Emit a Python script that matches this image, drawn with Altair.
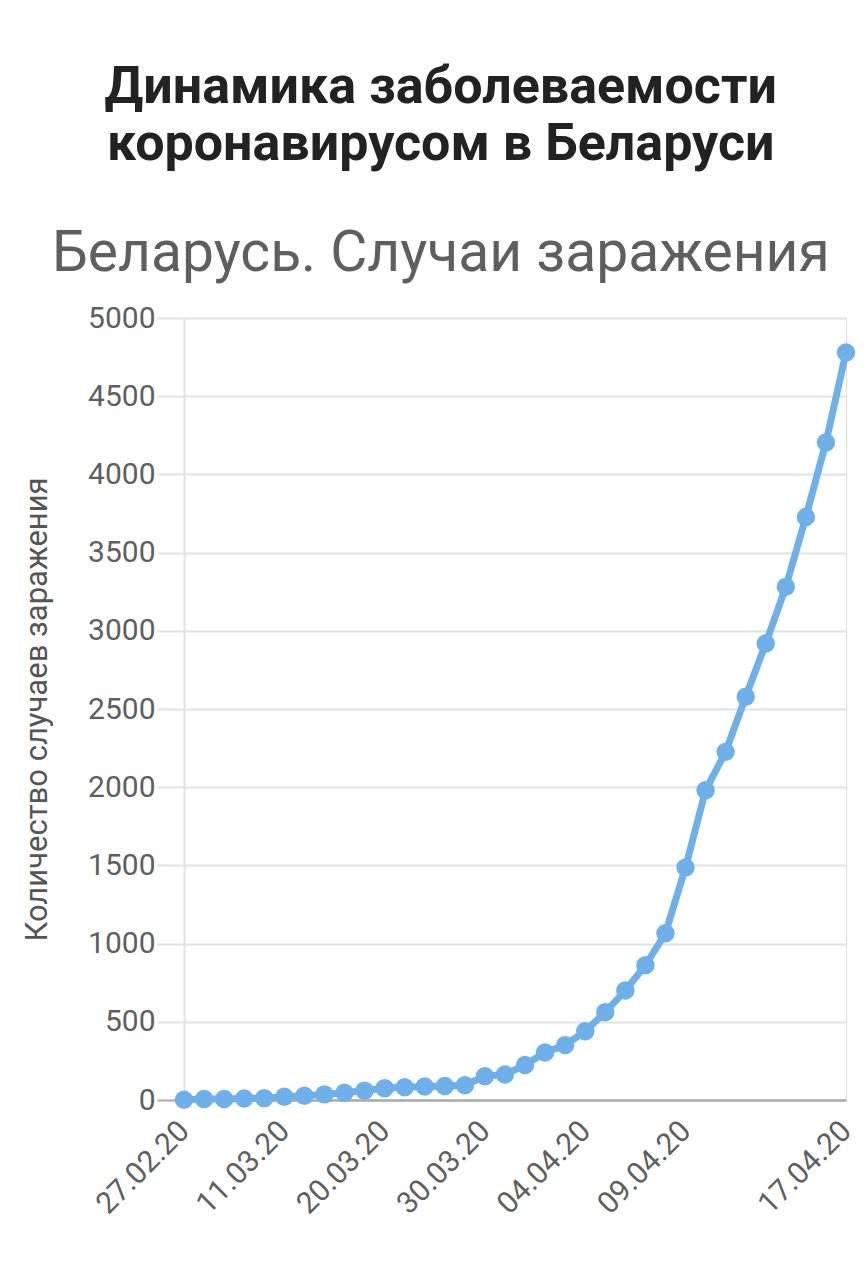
import altair as alt
import pandas as pd

dates = ["27.02.20", "28.02.20", "03.03.20", "05.03.20", "08.03.20", "11.03.20",
         "13.03.20", "15.03.20", "17.03.20", "18.03.20", "20.03.20", "22.03.20",
         "24.03.20", "26.03.20", "28.03.20", "30.03.20", "31.03.20", "01.04.20",
         "02.04.20", "03.04.20", "04.04.20", "05.04.20", "06.04.20", "07.04.20",
         "08.04.20", "09.04.20", "10.04.20", "11.04.20", "12.04.20", "13.04.20",
         "14.04.20", "15.04.20", "16.04.20", "17.04.20"]
cases = [1, 6, 6, 9, 12, 21, 27, 36, 46, 60, 76, 81, 86, 89, 94, 152, 163, 224,
         304, 351, 440, 562, 700, 861, 1066, 1486, 1981, 2226, 2578, 2919, 3281,
         3728, 4204, 4779]
shown_labels = ["27.02.20", "11.03.20", "20.03.20", "30.03.20", "04.04.20",
                "09.04.20", "17.04.20"]
y_ticks = [0, 500, 1000, 1500, 2000, 2500, 3000, 3500, 4000, 4500, 5000]

df = pd.DataFrame({"date": dates, "cases": cases})

blue = "#6db0ea"

chart = alt.Chart(df).mark_line(
    color=blue, strokeWidth=7,
    point=alt.OverlayMarkDef(filled=True, size=340, color=blue, opacity=1),
).encode(
    x=alt.X("date:N", sort=dates, title=None,
            scale=alt.Scale(type="point", padding=0),
            axis=alt.Axis(values=shown_labels, labelAngle=-45, labelFont="Roboto",
                          labelFontSize=30, labelColor="#5f5f5f", ticks=False,
                          domainColor="#ababab", domainWidth=2.5, labelPadding=26,
                          labelAlign="right", labelBaseline="middle", grid=False)),
    y=alt.Y("cases:Q", title="Количество случаев заражения",
            scale=alt.Scale(domain=[0, 5000], nice=False),
            axis=alt.Axis(values=y_ticks, format="d", labelFont="Roboto", labelFontSize=30,
                          labelColor="#5f5f5f", tickSize=27,
                          tickColor={"condition": {"test": "datum.value === 0", "value": "#ababab"}, "value": "#e2e2e2"},
                          tickWidth=2, gridColor="#e2e2e2", gridWidth=2,
                          domainColor="#e2e2e2", domainWidth=2, labelPadding=2,
                          titleFont="Roboto", titleFontSize=31, titleFontWeight="normal",
                          titleColor="#555555", titlePadding=34)),
).properties(
    width=662, height=782,
    autosize=alt.AutoSizeParams(type="none"),
    title=alt.TitleParams(
        text=["Динамика заболеваемости", "коронавирусом в Беларуси"],
        subtitle="Беларусь. Случаи заражения",
        font="Roboto", fontSize=52, fontWeight="bold", color="#222222",
        lineHeight=57, subtitleFont="Roboto", subtitleFontSize=57,
        subtitleColor="#5f5f5f", subtitlePadding=55, anchor="middle",
        frame="bounds", offset=20,
    ),
    padding={"left": 176, "top": 310, "right": 11, "bottom": 160},
).configure_view(stroke=None).configure(background="white")

chart.save("out.html", embed_options={"renderer": "svg", "actions": False})
